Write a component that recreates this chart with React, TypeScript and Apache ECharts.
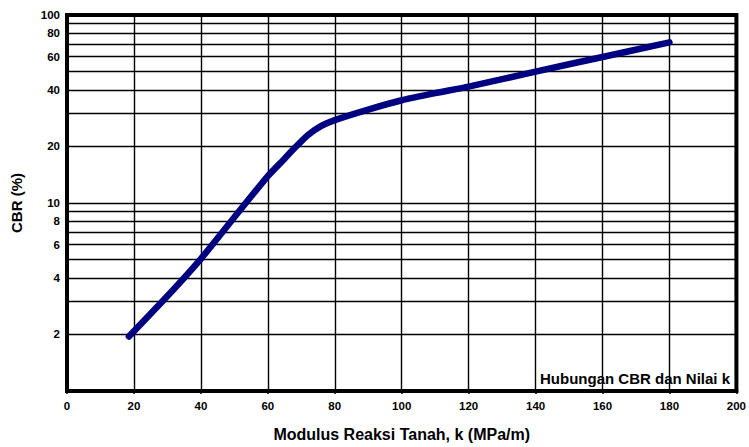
import React, { useEffect, useRef } from "react";
import * as echarts from "echarts";

const kValues = [18.5, 30, 40, 50, 60, 65, 68, 72, 76, 80, 90, 100, 110, 120, 140, 160, 180];
const cbrValues = [1.95, 3.2, 5.05, 8.4, 13.9, 17.2, 19.6, 23, 25.7, 27.6, 31.4, 35.2, 38.4, 41.6, 50, 59.8, 71.5];
const gridLinesY = [2, 3, 4, 5, 6, 7, 8, 9, 10, 20, 30, 40, 50, 60, 70, 80, 90, 100];
const labeledY = [2, 4, 6, 8, 10, 20, 40, 60, 80, 100];
const xTicks = { min: 0, max: 200, interval: 20 };
const FONT = 'Arial, "Liberation Sans", sans-serif';

export default function App() {
  const ref = useRef<HTMLDivElement>(null);
  useEffect(() => {
    if (!ref.current) return;
    const chart = echarts.init(ref.current, undefined, { renderer: "svg" });
    const lineData = kValues.map((k, i) => [k, cbrValues[i]]);
    chart.setOption({
      animation: false,
      backgroundColor: "#fff",
      title: {
        text: "Hubungan CBR dan Nilai k",
        left: 535,
        top: 366,
        textStyle: { fontFamily: FONT, fontWeight: "bold", fontSize: 15, color: "#000" },
      },
      grid: {
        left: 67,
        right: 9,
        top: 15,
        bottom: 50,
        show: true,
        borderColor: "#000",
        borderWidth: 4,
        backgroundColor: "transparent",
      },
      xAxis: {
        type: "value",
        min: xTicks.min,
        max: xTicks.max,
        interval: xTicks.interval,
        name: "Modulus Reaksi Tanah, k (MPa/m)",
        nameLocation: "middle",
        nameGap: 35,
        nameTextStyle: { fontFamily: FONT, fontWeight: "bold", fontSize: 16, color: "#000" },
        axisLine: { show: true, lineStyle: { color: "#000", width: 4 } },
        axisTick: { show: true, length: 3, lineStyle: { color: "#000", width: 1.5 } },
        axisLabel: { fontFamily: FONT, fontWeight: "bold", fontSize: 11.5, color: "#000", margin: 9 },
        splitLine: { show: true, lineStyle: { color: "#000", width: 1.4 } },
      },
      yAxis: {
        type: "log",
        logBase: 10,
        min: 1,
        max: 100,
        name: "CBR (%)",
        nameLocation: "middle",
        nameGap: 43,
        nameTextStyle: { fontFamily: FONT, fontWeight: "bold", fontSize: 15, color: "#000" },
        axisLine: { show: true, lineStyle: { color: "#000", width: 4 } },
        axisTick: { show: false },
        axisLabel: { show: false },
        splitLine: { show: false },
      },
      series: [
        {
          type: "line",
          data: [],
          z: 1,
          silent: true,
          markLine: {
            silent: true,
            symbol: ["none", "none"],
            lineStyle: { color: "#000", width: 1.4, type: "solid" },
            data: gridLinesY.map((v) => ({
              yAxis: v,
              label: {
                show: labeledY.includes(v),
                position: "start",
                distance: 7,
                formatter: String(v),
                fontFamily: FONT,
                fontWeight: "bold",
                fontSize: 11.5,
                color: "#000",
              },
            })),
          },
        },
        {
          type: "line",
          data: lineData,
          z: 5,
          showSymbol: false,
          smooth: 0.2,
          lineStyle: { color: "#000080", width: 6.5, cap: "round", join: "round" },
        },
      ],
    });
    return () => chart.dispose();
  }, []);
  return (
    <div
      ref={ref}
      style={{ position: "fixed", left: 0, top: 0, width: 749, height: 447, background: "#fff" }}
    />
  );
}
